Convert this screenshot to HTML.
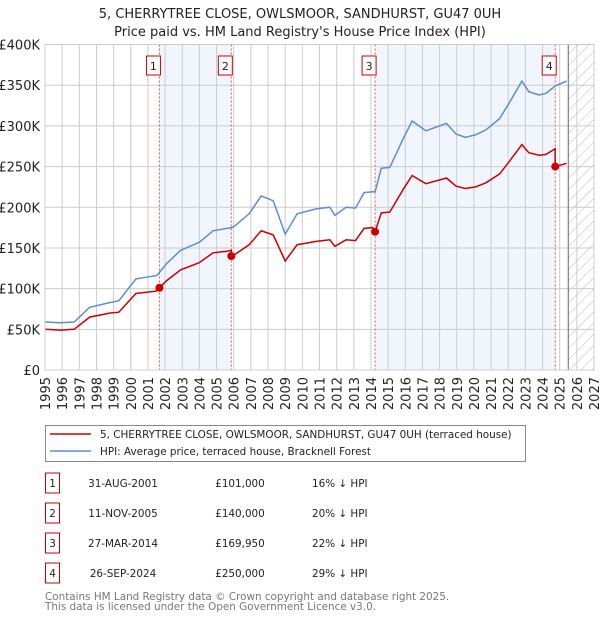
<!DOCTYPE html>
<html><head><meta charset="utf-8"><style>
body{margin:0;background:#fff;font-family:"DejaVu Sans","Liberation Sans",sans-serif;}
#wrap{position:relative;width:600px;height:620px;overflow:hidden}
svg text{font-family:"DejaVu Sans","Liberation Sans",sans-serif}
</style></head><body><div id="wrap">
<svg id="chart" width="600" height="620"></svg>
</div>
<script>
const hpiYears=[1995.0,1995.9,1996.7,1997.6,1998.8,1999.3,2000.3,2001.5,2001.67,2002.1,2002.9,2004.0,2004.8,2005.6,2005.86,2006.0,2006.9,2007.6,2008.3,2009.0,2009.7,2010.8,2011.6,2011.9,2012.55,2013.1,2013.6,2014.1,2014.24,2014.6,2015.1,2015.85,2016.4,2017.2,2018.4,2018.95,2019.5,2020.1,2020.7,2021.5,2022.05,2022.8,2023.2,2023.8,2024.2,2024.74,2025.4];
const hpiValues=[59,58,59,77,83,85,112,116,120,131,147,157,171,174,175,176,192,214,208,167,192,198,200,190,200,199,218,219,219,248,249,283,306,294,303,290,286,289,295,309,328,355,342,338,340,349,355];
const redYears=[1995.0,1995.9,1996.7,1997.6,1998.8,1999.3,2000.3,2001.5,2001.67,2002.1,2002.9,2004.0,2004.8,2005.6,2005.86,2005.87,2006.0,2006.9,2007.6,2008.3,2009.0,2009.7,2010.8,2011.6,2011.9,2012.55,2013.1,2013.6,2014.1,2014.24,2014.6,2015.1,2015.85,2016.4,2017.2,2018.4,2018.95,2019.5,2020.1,2020.7,2021.5,2022.05,2022.8,2023.2,2023.8,2024.2,2024.73,2024.74,2025.4];
const redValues=[50,49,50,65,70,71,94,97,101,110,123,132,144,146,147,140,141,154,171,166,134,154,158,160,152,160,159,174,175,170,193,194,221,239,229,236,226,223,225,230,241,256,277,267,264,265,272,250,254];
const saleYears=[2001.67,2005.86,2014.24,2024.74];
const saleValues=[101,140,169.95,250];
const yTicks=[0,50,100,150,200,250,300,350,400];
const yTickLabels=["£0","£50K","£100K","£150K","£200K","£250K","£300K","£350K","£400K"];
const xTicks=[1995,1996,1997,1998,1999,2000,2001,2002,2003,2004,2005,2006,2007,2008,2009,2010,2011,2012,2013,2014,2015,2016,2017,2018,2019,2020,2021,2022,2023,2024,2025,2026,2027];
const saleLabels=["1","2","3","4"];

const L=45,R=594,T=44.5,B=370;
const X=y=>L+(y-1995)/32*(R-L);
const Y=v=>B-v/400*(B-T);
const NS="http://www.w3.org/2000/svg";
const svg=document.getElementById('chart');
function mk(tag,a,parent){const e=document.createElementNS(NS,tag);for(const k in a)e.setAttribute(k,a[k]);(parent||svg).appendChild(e);return e;}

let t=mk('text',{x:300,y:18,'text-anchor':'middle','font-size':13,fill:'#222'});t.textContent="5, CHERRYTREE CLOSE, OWLSMOOR, SANDHURST, GU47 0UH";

t=mk('text',{x:300,y:36,'text-anchor':'middle','font-size':13,fill:'#222'});t.textContent="Price paid vs. HM Land Registry's House Price Index (HPI)";


const defs=mk('defs',{});
const pat=mk('pattern',{id:'hatch',width:8,height:8,patternUnits:'userSpaceOnUse',patternTransform:'rotate(45)'},defs);
mk('line',{x1:0,y1:0,x2:0,y2:8,stroke:'#bbb','stroke-width':1},pat);
let s=mk('rect',{x:X(saleYears[0]),y:T,width:X(saleYears[1])-X(saleYears[0]),height:B-T,fill:'#eef3fc',opacity:0.8});

s=mk('rect',{x:X(saleYears[2]),y:T,width:X(saleYears[3])-X(saleYears[2]),height:B-T,fill:'#eef3fc',opacity:0.8});

s=mk('rect',{x:X(2025.5),y:T,width:R-X(2025.5),height:B-T,fill:'url(#hatch)'});


yTicks.forEach((v,i)=>{
 const g=mk('line',{x1:L,x2:R,y1:Y(v),y2:Y(v),stroke:'#ccc','stroke-width':1});
 
 const tx=mk('text',{x:L-5,y:Y(v)+5,'text-anchor':'end','font-size':13,fill:'#222'});tx.textContent=yTickLabels[i];
 
});
xTicks.forEach(yr=>{
 const g=mk('line',{x1:X(yr),x2:X(yr),y1:T,y2:B,stroke:'#ccc','stroke-width':1});
 
 const tx=mk('text',{x:0,y:0,'text-anchor':'end','font-size':13,fill:'#222',transform:`translate(${X(yr)+5},377) rotate(-90)`});tx.textContent=yr;
 
});
let ln=mk('line',{x1:X(2025.5),x2:X(2025.5),y1:T,y2:B,stroke:'#666','stroke-width':1});


saleYears.forEach((yr,i)=>{
 const l=mk('line',{x1:X(yr),x2:X(yr),y1:T,y2:B,stroke:'#e55','stroke-width':1,'stroke-dasharray':'2,2'});
 
 const r=mk('rect',{x:X(yr)-13,y:56,width:14,height:19,fill:'#fff',stroke:'#c00','stroke-width':1});
 
 const tx=mk('text',{x:X(yr)-6,y:70,'text-anchor':'middle','font-size':11,fill:'#222'});tx.textContent=saleLabels[i];
 
});

function path(xs,vs){return xs.map((x,i)=>(i?'L':'M')+X(x).toFixed(1)+','+Y(vs[i]).toFixed(1)).join(' ');}
let p=mk('path',{d:path(hpiYears,hpiValues),fill:'none',stroke:'#5b8fd0','stroke-width':1.5});

p=mk('path',{d:path(redYears,redValues),fill:'none',stroke:'#cc0000','stroke-width':1.5});

saleYears.forEach((yr,i)=>{
 const c=mk('circle',{cx:X(yr),cy:Y(saleValues[i]),r:4,fill:'#cc0000'});
 
});
let fr=mk('rect',{x:L,y:T,width:R-L,height:B-T,fill:'none',stroke:'#ccc','stroke-width':1});


const FS=10.4;
let lg=mk('rect',{x:45.5,y:425.5,width:480,height:36,fill:'#fff',stroke:'#888','stroke-width':1});

ln=mk('line',{x1:50,x2:91,y1:434,y2:434,stroke:'#cc0000','stroke-width':1.5});

t=mk('text',{x:100,y:438,'font-size':FS,fill:'#222'});t.textContent="5, CHERRYTREE CLOSE, OWLSMOOR, SANDHURST, GU47 0UH (terraced house)";

ln=mk('line',{x1:50,x2:91,y1:451,y2:451,stroke:'#5b8fd0','stroke-width':1.5});

t=mk('text',{x:100,y:455,'font-size':FS,fill:'#222'});t.textContent="HPI: Average price, terraced house, Bracknell Forest";


const dates=["31-AUG-2001","11-NOV-2005","27-MAR-2014","26-SEP-2024"];
const prices=["£101,000","£140,000","£169,950","£250,000"];
const pcts=["16% ↓ HPI","20% ↓ HPI","22% ↓ HPI","29% ↓ HPI"];
dates.forEach((d,i)=>{
 const cy=483+30*i;
 const r=mk('rect',{x:45.5,y:cy-10,width:14,height:20,fill:'#fff',stroke:'#c00','stroke-width':1});
 
 let tx=mk('text',{x:52.5,y:cy+4,'text-anchor':'middle','font-size':FS,fill:'#222'});tx.textContent=saleLabels[i];
 
 tx=mk('text',{x:123,y:cy+4,'text-anchor':'middle','font-size':FS,fill:'#222'});tx.textContent=d;
 
 tx=mk('text',{x:240,y:cy+4,'text-anchor':'middle','font-size':FS,fill:'#222'});tx.textContent=prices[i];
 
 tx=mk('text',{x:312,y:cy+4,'font-size':FS,fill:'#222'});tx.textContent=pcts[i];
 
});
t=mk('text',{x:45,y:600,'font-size':FS,fill:'#777'});t.textContent="Contains HM Land Registry data © Crown copyright and database right 2025.";

t=mk('text',{x:45,y:610,'font-size':FS,fill:'#777'});t.textContent="This data is licensed under the Open Government Licence v3.0.";

</script></body></html>
